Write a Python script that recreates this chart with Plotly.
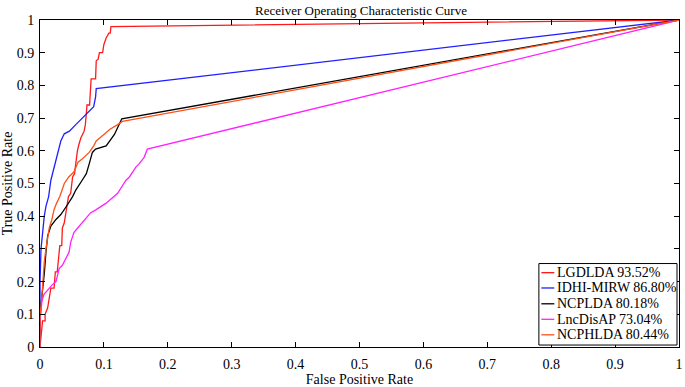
import plotly.graph_objects as go

# LGDLDA
lgd_fpr = [0, 0.002, 0.004, 0.008, 0.008, 0.012, 0.014, 0.017, 0.022, 0.024, 0.027, 0.029, 0.031, 0.034, 0.035, 0.038, 0.040, 0.042, 0.0445, 0.048, 0.051, 0.054, 0.0585, 0.061, 0.064, 0.069, 0.071, 0.0725, 0.0735, 0.0776, 0.080, 0.087, 0.088, 0.091, 0.093, 0.098, 0.100, 0.1035, 0.1077, 0.110, 0.111, 1.0]
lgd_tpr = [0, 0.04, 0.08, 0.08, 0.10, 0.12, 0.14, 0.18, 0.18, 0.23, 0.23, 0.264, 0.31, 0.31, 0.364, 0.38, 0.41, 0.44, 0.46, 0.47, 0.52, 0.53, 0.60, 0.62, 0.64, 0.66, 0.68, 0.715, 0.74, 0.74, 0.82, 0.82, 0.875, 0.88, 0.90, 0.90, 0.925, 0.945, 0.96, 0.96, 0.98, 1.0]

# IDHI-MIRW
idhi_fpr = [0, 0, 0.0016, 0.004, 0.0067, 0.0093, 0.0135, 0.017, 0.025, 0.0326, 0.038, 0.046, 0.056, 0.069, 0.084, 0.087, 0.088, 1.0]
idhi_tpr = [0, 0.2, 0.30, 0.36, 0.40, 0.43, 0.46, 0.51, 0.57, 0.63, 0.652, 0.66, 0.68, 0.705, 0.735, 0.765, 0.79, 1.0]

# NCPLDA
ncp_fpr = [0, 0, 0.0016, 0.005, 0.007, 0.0093, 0.012, 0.017, 0.025, 0.0326, 0.040, 0.043, 0.051, 0.056, 0.066, 0.0725, 0.077, 0.082, 0.087, 0.1035, 0.1165, 0.121, 0.128, 1.0]
ncp_tpr = [0, 0.08, 0.13, 0.19, 0.23, 0.29, 0.34, 0.37, 0.39, 0.405, 0.425, 0.435, 0.46, 0.48, 0.51, 0.53, 0.56, 0.595, 0.605, 0.615, 0.65, 0.67, 0.698, 1.0]

# LncDisAP
lnc_fpr = [0, 0, 0.003, 0.006, 0.012, 0.019, 0.025, 0.028, 0.030, 0.035, 0.040, 0.0455, 0.048, 0.053, 0.059, 0.066, 0.0714, 0.079, 0.088, 0.1035, 0.1215, 0.1345, 0.140, 0.150, 0.155, 0.163, 0.168, 1.0]
lnc_tpr = [0, 0.08, 0.14, 0.16, 0.174, 0.19, 0.20, 0.22, 0.24, 0.25, 0.27, 0.29, 0.32, 0.35, 0.364, 0.38, 0.39, 0.41, 0.42, 0.44, 0.47, 0.51, 0.52, 0.55, 0.56, 0.58, 0.605, 1.0]

# NCPHLDA
ncph_fpr = [0, 0, 0.002, 0.004, 0.0067, 0.0093, 0.012, 0.0145, 0.0186, 0.022, 0.026, 0.031, 0.038, 0.045, 0.053, 0.0595, 0.066, 0.077, 0.084, 0.088, 0.1, 0.109, 0.1215, 0.129, 1.0]
ncph_tpr = [0, 0.1, 0.13, 0.20, 0.26, 0.30, 0.33, 0.364, 0.39, 0.42, 0.44, 0.46, 0.50, 0.52, 0.535, 0.565, 0.575, 0.595, 0.615, 0.63, 0.65, 0.665, 0.68, 0.69, 1.0]

names = ["LGDLDA 93.52%", "IDHI-MIRW 86.80%", "NCPLDA 80.18%", "LncDisAP 73.04%", "NCPHLDA 80.44%"]
colors = ["#ff1a1a", "#2020ff", "#000000", "#ff22ff", "#ff5016"]
series = [(lgd_fpr, lgd_tpr), (idhi_fpr, idhi_tpr), (ncp_fpr, ncp_tpr), (lnc_fpr, lnc_tpr), (ncph_fpr, ncph_tpr)]

fig = go.Figure()
for (fx, ty), nm, c in zip(series, names, colors):
    fig.add_trace(go.Scatter(x=fx, y=ty, mode="lines", name=nm,
                             line=dict(color=c, width=1.3), showlegend=False))

FF = "Liberation Serif"
tickvals = [i / 10 for i in range(11)]
ticktext = ["0", "0.1", "0.2", "0.3", "0.4", "0.5", "0.6", "0.7", "0.8", "0.9", "1"]

# manual legend (paper coordinates)
W, H = 685, 387
ml, mr, mt, mb = 40, 2, 20, 34
pw, ph = W - ml - mr, H - mt - mb
def px(x):
    return (x - ml) / pw
def py(y):
    return (H - mb - y) / ph

shapes = [dict(type="rect", xref="paper", yref="paper",
               x0=px(542), x1=px(681), y0=py(351), y1=py(268),
               line=dict(color="black", width=1), fillcolor="white", layer="above")]
annotations = []
entry_y = [277.3, 292.9, 309.0, 324.8, 340.6]
for nm, c, ey in zip(names, colors, entry_y):
    shapes.append(dict(type="line", xref="paper", yref="paper",
                       x0=px(544.5), x1=px(557.5), y0=py(ey), y1=py(ey),
                       line=dict(color=c, width=1.3), layer="above"))
    annotations.append(dict(xref="paper", yref="paper", x=px(558.5), y=py(ey),
                            xanchor="left", yanchor="middle", showarrow=False,
                            text=nm, font=dict(size=14, family=FF, color="black")))

fig.update_layout(
    width=W, height=H,
    margin=dict(l=ml, r=mr, t=mt, b=mb),
    paper_bgcolor="white", plot_bgcolor="white",
    font=dict(family=FF, size=14, color="black"),
    title=dict(text="Receiver Operating Characteristic Curve", x=0.527, xanchor="center",
               y=0.985, yanchor="top", font=dict(size=13, family=FF, color="black")),
    shapes=shapes, annotations=annotations,
    showlegend=False,
)
fig.update_xaxes(range=[0, 1], tickvals=tickvals, ticktext=ticktext,
                 ticks="inside", ticklen=5, tickcolor="black",
                 showline=True, linecolor="black", linewidth=1, mirror="ticks",
                 showgrid=False, zeroline=False, ticklabelstandoff=4,
                 ticklabeloverflow="allow",
                 title=dict(text="False Positive Rate", standoff=3,
                            font=dict(size=14, family=FF, color="black")),
                 tickfont=dict(size=14, family=FF, color="black"))
fig.update_yaxes(range=[0, 1], tickvals=tickvals, ticktext=ticktext,
                 ticks="inside", ticklen=5, tickcolor="black",
                 showline=True, linecolor="black", linewidth=1, mirror="ticks",
                 showgrid=False, zeroline=False, ticklabelstandoff=2,
                 ticklabeloverflow="allow",
                 title=dict(text="True Positive Rate", standoff=3,
                            font=dict(size=14, family=FF, color="black")),
                 tickfont=dict(size=14, family=FF, color="black"))

fig.write_html("out.html", config={"displayModeBar": False},
               post_script="document.body.style.margin='0';")
